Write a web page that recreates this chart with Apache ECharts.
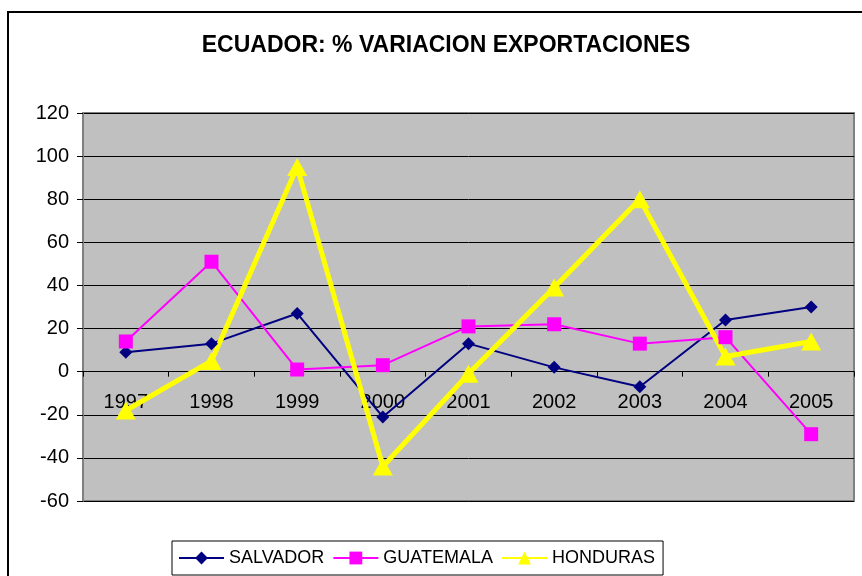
<!DOCTYPE html>
<html>
<head>
<meta charset="utf-8">
<script src="https://cdn.jsdelivr.net/npm/echarts@6/dist/echarts.min.js"></script>
<style>
    html, body { margin: 0; padding: 0; background: #fff; }
    #app { width: 862px; height: 576px; }
</style>
</head>
<body>
<div id="app"></div>
<script>
// 数据
const years = ['1997', '1998', '1999', '2000', '2001', '2002', '2003', '2004', '2005'];
const salvador = [9, 13, 27, -21, 13, 2, -7, 24, 30];
const guatemala = [14, 51, 1, 3, 21, 22, 13, 16, -29];
const honduras = [-18, 5, 95, -44, -1, 39, 80, 7, 14];
const yTicks = { min: -60, max: 120, step: 20 };

const font = '"Liberation Sans", Arial, sans-serif';

// 绘图区高度与零线位置
const gridTop = 113;
const gridBottom = 75;
const plotHeight = 576 - gridTop - gridBottom;
const zeroOffset = -plotHeight * (0 - yTicks.min) / (yTicks.max - yTicks.min);

// 初始化图表
const myChart = echarts.init(document.getElementById('app'));

myChart.setOption({
    animation: false,
    backgroundColor: '#fff',
    textStyle: { fontFamily: font },
    graphic: [{
        // 外框
        type: 'rect',
        shape: { x: 8, y: 12, width: 900, height: 620 },
        style: { fill: 'none', stroke: '#000', lineWidth: 2 },
        silent: true,
        z: -1
    }],
    title: {
        text: 'ECUADOR: % VARIACION EXPORTACIONES',
        left: 441,
        textAlign: 'center',
        top: 29,
        textStyle: { fontFamily: font, fontSize: 23, fontWeight: 'bold', color: '#000' }
    },
    grid: {
        left: 83,
        right: 8,
        top: gridTop,
        bottom: gridBottom,
        show: true,
        backgroundColor: '#c0c0c0',
        borderColor: '#808080',
        borderWidth: 2,
        containLabel: false
    },
    legend: {
        left: 172,
        top: 541,
        padding: [7, 8, 7, 6],
        borderColor: '#000',
        borderWidth: 1,
        itemWidth: 45,
        itemHeight: 16,
        itemGap: 8,
        textStyle: { fontFamily: font, fontSize: 18, color: '#000', lineHeight: 20 },
        data: ['SALVADOR', 'GUATEMALA', 'HONDURAS']
    },
    xAxis: {
        type: 'category',
        data: years,
        boundaryGap: true,
        offset: zeroOffset,
        axisLine: { onZero: false, lineStyle: { color: '#000', width: 1 } },
        axisTick: { show: true, length: 5, inside: false, lineStyle: { color: '#000' } },
        axisLabel: { margin: 21, fontFamily: font, fontSize: 20, color: '#000' },
        splitLine: { show: false }
    },
    yAxis: {
        type: 'value',
        min: yTicks.min,
        max: yTicks.max,
        interval: yTicks.step,
        axisLine: { show: true, lineStyle: { color: '#808080', width: 2 } },
        axisTick: { show: true, length: 6, lineStyle: { color: '#000' } },
        axisLabel: { margin: 14, fontFamily: font, fontSize: 20, color: '#000' },
        splitLine: { show: true, lineStyle: { color: '#000', width: 1 } }
    },
    series: [{
        name: 'SALVADOR',
        type: 'line',
        data: salvador,
        symbol: 'diamond',
        symbolSize: 13,
        lineStyle: { color: '#000080', width: 2 },
        itemStyle: { color: '#000080' }
    }, {
        name: 'GUATEMALA',
        type: 'line',
        data: guatemala,
        symbol: 'rect',
        symbolSize: 14,
        lineStyle: { color: '#ff00ff', width: 2 },
        itemStyle: { color: '#ff00ff' }
    }, {
        name: 'HONDURAS',
        type: 'line',
        data: honduras,
        symbol: 'triangle',
        symbolSize: [20, 18],
        lineStyle: { color: '#ffff00', width: 5 },
        itemStyle: { color: '#ffff00' }
    }]
});
</script>
</body>
</html>
